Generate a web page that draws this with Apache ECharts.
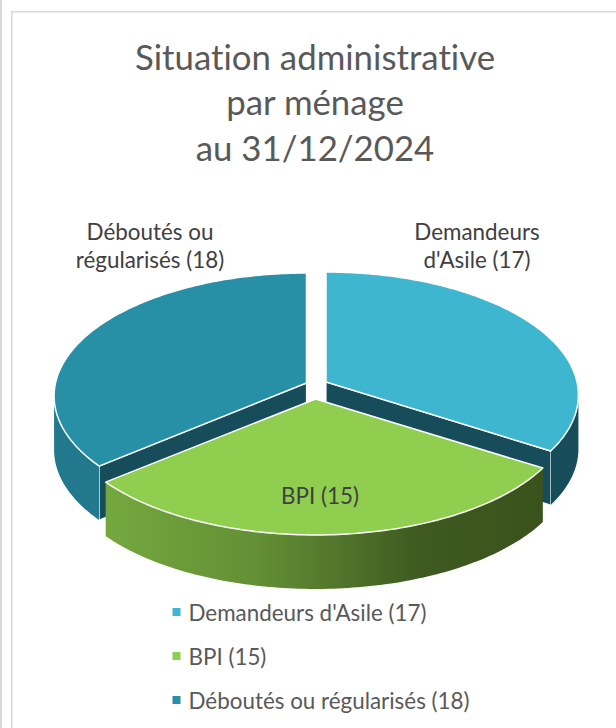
<!DOCTYPE html>
<html><head><meta charset="utf-8">
<style>html,body{margin:0;padding:0;background:#fff}#c{width:616px;height:728px}svg text{font-variant-ligatures:none}</style>
<script src="https://cdn.jsdelivr.net/npm/echarts@6/dist/echarts.min.js"></script>
</head><body><div id="c"></div>
<script>
const categories = ["Demandeurs d'Asile", "BPI", "Déboutés ou régularisés"];
const values = [17, 15, 18];
const titleLines = ["Situation administrative", "par ménage", "au 31/12/2024"];
const sliceLabels = ["Demandeurs\nd'Asile (17)", "BPI (15)", "Déboutés ou\nrégularisés (18)"];

const FONT = 'Lato';
const total = values.reduce((a, b) => a + b, 0);
const starts = values.map((v, i) => values.slice(0, i).reduce((a, b) => a + b, 0) / total * 360);
const ends = values.map((v, i) => starts[i] + v / total * 360);

// 3D projection settings of the tilted, exploded pie
const apex = [[326, 382], [315.5, 399], [306.5, 383]];
const radius = [251, 254, 251];
const labelPos = [[477, 245.5], [320, 495], [150, 245.5]];
const tilt = 121.6, persp = 0.1056, depth = 54;
const topColor = ['#3FB6CF', '#8FCE4F', '#2790A6'];
const innerColor = ['#174D5A', '#174D5A', '#174D5A'];
const sideColor = [
  '#174D5A',
  {type: 'linear', x: 0, y: 0, x2: 1, y2: 0, colorStops: [
    {offset: 0, color: '#74A83E'}, {offset: 0.35, color: '#648F35'},
    {offset: 0.72, color: '#3E5A20'}, {offset: 1, color: '#3A521C'}]},
  '#22798D'
];

function pt(i, deg, dz) {
  const t = deg * Math.PI / 180, c = -Math.cos(t);
  const s = 1 / (1 - persp * c);
  return [apex[i][0] + radius[i] * Math.sin(t) * s, apex[i][1] + tilt * c * s + (dz || 0)];
}
function arc(i, a, b, dz) {
  const out = [], n = Math.ceil(Math.abs(b - a));
  for (let k = 0; k <= n; k++) out.push(pt(i, a + (b - a) * k / n, dz));
  return out;
}
// angle of the widest point of a slice's rim: the wall's silhouette starts there
function widest(i) {
  let best = starts[i], w = -1;
  for (let d = starts[i]; d <= ends[i]; d += 0.25) {
    const x = Math.abs(pt(i, d)[0] - apex[i][0]);
    if (x > w) { w = x; best = d; }
  }
  return best;
}
function renderSlice(i) {
  return function () {
    const a = starts[i], b = ends[i], A = apex[i];
    const kids = [];
    const A2 = [A[0], A[1] + depth];
    if (i !== 1) {
      const ang = i === 0 ? b : a;
      kids.push({type: 'polygon', shape: {points: [A, pt(i, ang), pt(i, ang, depth), A2]},
        style: {fill: innerColor[i], stroke: '#fff', lineWidth: 1.2}});
    }
    const from = i === 0 ? widest(0) : a, to = i === 2 ? widest(2) : b;
    const wall = arc(i, from, to).concat(arc(i, to, from, depth));
    kids.push({type: 'polygon', shape: {points: wall}, style: {fill: sideColor[i]}});
    kids.push({type: 'polygon', shape: {points: [A].concat(arc(i, a, b))},
      style: {fill: topColor[i], stroke: '#fff', lineWidth: 1.5, lineJoin: 'round'}});
    kids.push({type: 'text', style: {x: labelPos[i][0], y: labelPos[i][1], text: sliceLabels[i],
      fill: '#404040', font: '22.4px ' + FONT, align: 'center', verticalAlign: 'middle', lineHeight: 28}, z2: 10});
    return {type: 'group', children: kids};
  };
}
const zOrder = [3, 4, 2];
const series = categories.map((c, i) => ({
  type: 'custom', name: c + ' (' + values[i] + ')', coordinateSystem: 'none', z: zOrder[i],
  renderItem: renderSlice(i), data: [values[i]], silent: true,
  itemStyle: {color: topColor[i]}
}));

const chart = echarts.init(document.getElementById('c'), null, {renderer: 'svg'});
chart.setOption({
  animation: false,
  backgroundColor: '#fff',
  title: {text: titleLines.join('\n'), left: 310, top: 28.5, textAlign: 'center',
    textStyle: {fontFamily: FONT, fontSize: 34.8, fontWeight: 'normal', color: '#595959', lineHeight: 45.5}},
  legend: {orient: 'vertical', left: 167.5, top: 596, icon: 'rect', itemWidth: 8, itemHeight: 8,
    itemGap: 22,
    textStyle: {fontFamily: FONT, fontSize: 22.4, color: '#595959', padding: [0, 0, 0, 3]},
    selectedMode: false},
  graphic: [
    {type: 'rect', shape: {x: 0, y: 0, width: 2, height: 728}, style: {fill: '#d9d9d9'}},
    {type: 'rect', shape: {x: 11, y: 11, width: 605, height: 1.5}, style: {fill: '#d9d9d9'}},
    {type: 'rect', shape: {x: 11, y: 11, width: 1.5, height: 717}, style: {fill: '#d9d9d9'}}
  ],
  series
});
</script></body></html>
